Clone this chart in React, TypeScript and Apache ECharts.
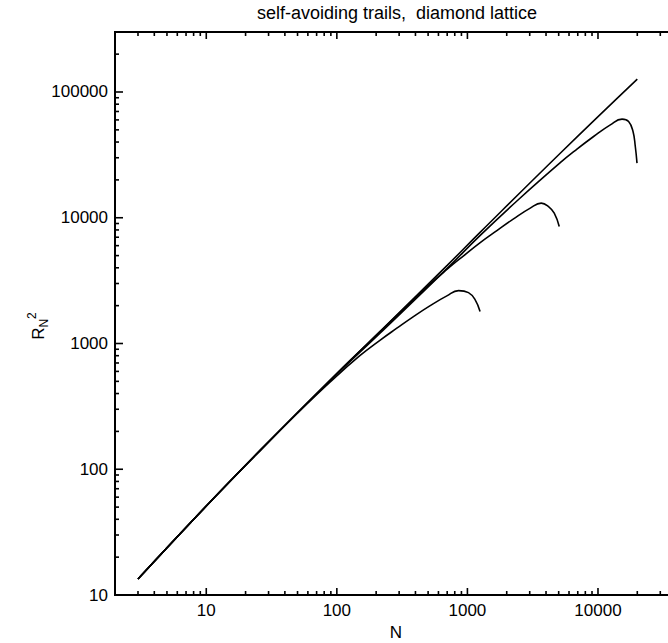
import React, { useEffect, useRef } from 'react';
import * as echarts from 'echarts';

// ---- axis ranges ----
const X_MIN = 2;
const X_MAX = 40000;
const Y_MIN = 10;
const Y_MAX = 300000;

// ---- tick labels ----
const xTickLabels = [10, 100, 1000, 10000];
const yTickLabels = [10, 100, 1000, 10000, 100000];
const decades = [1, 10, 100, 1000, 10000, 100000];
const minorMultipliers = [1, 2, 3, 4, 5, 6, 7, 8, 9];

// ---- series data (N, R_N^2) ----
const mainN = [3, 10, 26, 89, 215, 700, 1250, 5140, 20000];
const mainR2 = [13.4, 51, 142, 513, 1250, 4180, 7650, 32600, 126600];

const curve1N = [3, 10, 26, 50, 89, 150, 215, 288, 386, 519, 696, 855, 1019, 1147, 1250];
const curve1R2 = [13.4, 51, 142, 280, 495, 800, 1065, 1323, 1637, 2002, 2391, 2635, 2540, 2222, 1794];

const curve2N = [3, 10, 26, 89, 215, 500, 700, 950, 1253, 1682, 2255, 3028, 3677, 4181, 4624, 5050];
const curve2R2 = [13.4, 51, 142, 513, 1248, 2872, 3900, 5050, 6350, 7910, 9800, 11925, 13070, 12280, 10880, 8511];

const curve3N = [3, 10, 26, 89, 215, 700, 1253, 2500, 5140, 6902, 9253, 12430, 15280, 17160, 18550, 19310, 19900];
const curve3R2 = [13.4, 51, 142, 508, 1214, 3960, 7244, 14160, 27400, 35130, 44260, 54830, 60880, 58260, 48510, 36850, 27190];

const TITLE = 'self-avoiding trails,  diamond lattice';
const FONT = 'Liberation Sans, Arial, Helvetica, sans-serif';

const zip = (a: number[], b: number[]) => a.map((v, i) => [v, b[i]]);

function tickValues(lo: number, hi: number) {
  const out: number[][] = [];
  decades.forEach((d) => {
    minorMultipliers.forEach((m) => {
      const v = m * d;
      if (v >= lo * 0.999 && v <= hi * 1.001) out.push([v, m === 1 ? 1 : 0]);
    });
  });
  return out;
}

const isLabel = (v: number, list: number[]) => list.some((l) => Math.abs(v - l) / l < 1e-6);

export default function App() {
  const ref = useRef<HTMLDivElement>(null);
  useEffect(() => {
    document.body.style.margin = '0';
    const chart = echarts.init(ref.current!, null, { renderer: 'svg' });

    const xTicks = tickValues(X_MIN, X_MAX).map(([v, m]) => [v, Y_MIN, m]);
    const yTicks = tickValues(Y_MIN, Y_MAX).map(([v, m]) => [X_MIN, v, m]);

    const lineSeries = (data: number[][]) => ({
      type: 'line',
      data,
      showSymbol: false,
      symbol: 'none',
      smooth: 0.45,
      lineStyle: { color: '#000', width: 1.6 },
      silent: true,
      z: 3,
    });

    const option: any = {
      animation: false,
      backgroundColor: '#fff',
      grid: {
        left: 115,
        top: 32,
        width: 561.6,
        height: 563,
        containLabel: false,
        outerBoundsMode: 'none',
        show: true,
        borderColor: '#000',
        borderWidth: 2,
        backgroundColor: 'transparent',
      },
      xAxis: {
        type: 'log',
        logBase: 10,
        min: X_MIN,
        max: X_MAX,
        name: 'N',
        nameLocation: 'middle',
        nameGap: 27,
        nameTextStyle: { color: '#000', fontSize: 17, fontFamily: FONT },
        axisLine: { show: false },
        axisTick: { show: false },
        splitLine: { show: false },
        minorTick: { show: false },
        axisLabel: {
          color: '#000',
          fontSize: 17,
          fontFamily: FONT,
          margin: 7,
          showMinLabel: true,
          showMaxLabel: true,
          formatter: (v: number) => (isLabel(v, xTickLabels) ? String(Math.round(v)) : ''),
        },
      },
      yAxis: {
        type: 'log',
        logBase: 10,
        min: Y_MIN,
        max: Y_MAX,
        axisLine: { show: false },
        axisTick: { show: false },
        splitLine: { show: false },
        minorTick: { show: false },
        axisLabel: {
          color: '#000',
          fontSize: 17,
          fontFamily: FONT,
          margin: 7,
          showMinLabel: true,
          formatter: (v: number) => (isLabel(v, yTickLabels) ? String(Math.round(v)) : ''),
        },
      },
      graphic: [
        {
          type: 'text',
          x: 397,
          y: 13,
          style: {
            text: TITLE,
            fill: '#000',
            font: `18px ${FONT}`,
            textAlign: 'center',
            textVerticalAlign: 'middle',
          },
        },
        {
          type: 'text',
          x: 38,
          y: 326,
          rotation: Math.PI / 2,
          style: {
            text: '{r|R}{s|N}{p|2}',
            fill: '#000',
            textAlign: 'center',
            textVerticalAlign: 'middle',
            rich: {
              r: { fontSize: 17, lineHeight: 24, fontFamily: FONT, fill: '#000' },
              s: { fontSize: 12, lineHeight: 12, verticalAlign: 'bottom', fontFamily: FONT, fill: '#000' },
              p: { fontSize: 12, lineHeight: 12, verticalAlign: 'top', fontFamily: FONT, fill: '#000' },
            },
          },
        },
      ],
      series: [
        {
          type: 'custom',
          clip: false,
          silent: true,
          data: xTicks,
          encode: { x: 0, y: 1 },
          renderItem: (_p: any, api: any) => {
            const v = api.value(0);
            const len = api.value(2) ? 7 : 4;
            const b = api.coord([v, Y_MIN]);
            const t = api.coord([v, Y_MAX]);
            const st = { stroke: '#000', lineWidth: 1.6 };
            return {
              type: 'group',
              children: [
                { type: 'line', shape: { x1: b[0], y1: b[1], x2: b[0], y2: b[1] - len }, style: st },
                { type: 'line', shape: { x1: t[0], y1: t[1], x2: t[0], y2: t[1] + len }, style: st },
              ],
            };
          },
        },
        {
          type: 'custom',
          clip: false,
          silent: true,
          data: yTicks,
          encode: { x: 0, y: 1 },
          renderItem: (_p: any, api: any) => {
            const v = api.value(1);
            const len = api.value(2) ? 8 : 4;
            const l = api.coord([X_MIN, v]);
            const r = api.coord([X_MAX, v]);
            const st = { stroke: '#000', lineWidth: 1.6 };
            return {
              type: 'group',
              children: [
                { type: 'line', shape: { x1: l[0], y1: l[1], x2: l[0] + len, y2: l[1] }, style: st },
                { type: 'line', shape: { x1: r[0], y1: r[1], x2: r[0] - len, y2: r[1] }, style: st },
              ],
            };
          },
        },
        lineSeries(zip(mainN, mainR2)),
        lineSeries(zip(curve1N, curve1R2)),
        lineSeries(zip(curve2N, curve2R2)),
        lineSeries(zip(curve3N, curve3R2)),
      ],
    };

    chart.setOption(option);
    return () => chart.dispose();
  }, []);

  return <div ref={ref} style={{ width: 668, height: 643 }} />;
}
